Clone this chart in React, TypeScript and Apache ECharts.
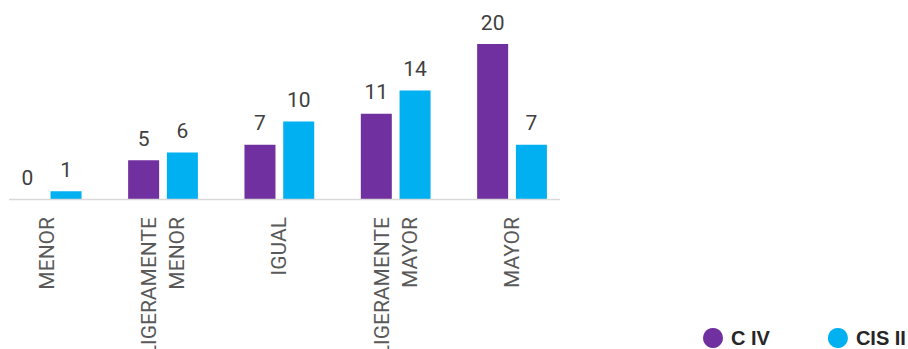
import React, { useEffect, useRef } from "react";
import * as echarts from "echarts";

const categories = ["MENOR", "LIGERAMENTE\nMENOR", "IGUAL", "LIGERAMENTE\nMAYOR", "MAYOR"];
const seriesNames = ["C IV", "CIS II"];
const civValues = [0, 5, 7, 11, 20];
const cisValues = [1, 6, 10, 14, 7];

const PURPLE = "#7030A0";
const CYAN = "#00B0F0";

export default function App() {
  const ref = useRef<HTMLDivElement>(null);
  useEffect(() => {
    if (!ref.current) return;
    const chart = echarts.init(ref.current, null, { renderer: "svg" });
    const labelStyle = {
      show: true,
      position: "top",
      distance: 11,
      color: "#404040",
      fontSize: 21,
      fontFamily: "Roboto",
    };
    chart.setOption({
      animation: false,
      backgroundColor: "#ffffff",
      grid: {
        left: -11.5,
        width: 581.7,
        top: 5.25,
        bottom: 150,
        containLabel: false,
        outerBoundsMode: "none",
      },
      xAxis: {
        type: "category",
        data: categories,
        axisLine: { show: false },
        axisTick: { show: false },
        axisLabel: {
          rotate: 90,
          interval: 0,
          margin: 18,
          color: "#595959",
          fontSize: 21,
          lineHeight: 28,
          fontFamily: "Roboto",
        },
      },
      yAxis: {
        type: "value",
        min: 0,
        max: 25,
        show: false,
        splitLine: { show: false },
      },
      legend: {
        left: 703,
        top: 328,
        width: 400,
        itemWidth: 20,
        itemHeight: 20,
        itemGap: 58,
        padding: 0,
        icon: "circle",
        data: seriesNames,
        textStyle: {
          fontFamily: "Liberation Sans, Arial, sans-serif",
          fontWeight: "bold",
          fontSize: 20,
          color: "#262626",
          padding: [0, 0, 0, 3],
        },
      },
      graphic: [
        {
          type: "line",
          shape: { x1: 9, y1: 199.5, x2: 560, y2: 199.5 },
          style: { stroke: "#D9D9D9", lineWidth: 1.5 },
          z: 10,
        },
      ],
      series: [
        {
          name: seriesNames[0],
          type: "bar",
          data: civValues,
          barWidth: 31,
          barGap: "25%",
          itemStyle: { color: PURPLE },
          label: labelStyle,
        },
        {
          name: seriesNames[1],
          type: "bar",
          data: cisValues,
          barWidth: 31,
          barGap: "25%",
          itemStyle: { color: CYAN },
          label: labelStyle,
        },
      ],
    });
    return () => chart.dispose();
  }, []);
  return <div ref={ref} style={{ width: 908, height: 349, position: "absolute", left: 0, top: 0 }} />;
}
